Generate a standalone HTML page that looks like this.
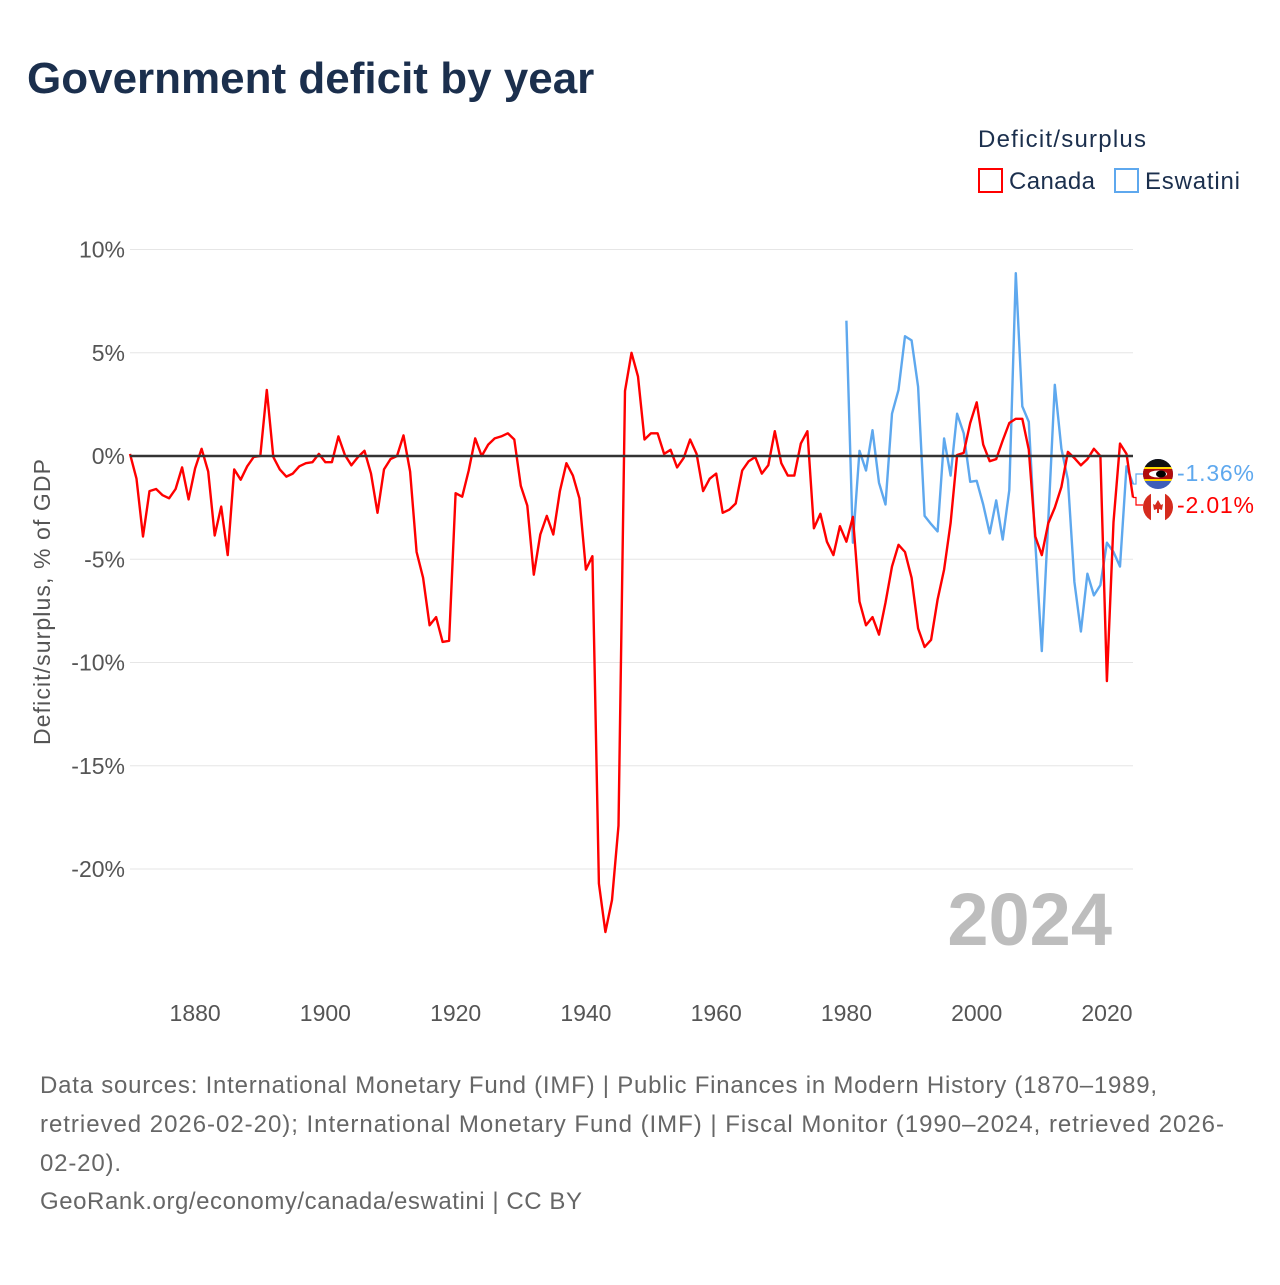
<!DOCTYPE html>
<html><head><meta charset="utf-8"><style>
body{margin:0;background:#fff;width:1280px;height:1280px;overflow:hidden;font-family:"Liberation Sans",sans-serif}
</style></head><body>
<svg width="1280" height="1280" viewBox="0 0 1280 1280" xmlns="http://www.w3.org/2000/svg">
<text x="27" y="93" font-size="44" font-weight="bold" fill="#1b2f4d">Government deficit by year</text>
<text x="978" y="147" font-size="24" fill="#1b2f4d" textLength="168">Deficit/surplus</text>
<g><rect x="979" y="169" width="23" height="23" fill="none" stroke="#ff0000" stroke-width="2"/><text x="1009" y="189" font-size="24" fill="#1b2f4d" textLength="86">Canada</text></g>
<g><rect x="1115" y="169" width="23" height="23" fill="none" stroke="#5ea8ee" stroke-width="2"/><text x="1145" y="189" font-size="24" fill="#1b2f4d" textLength="95">Eswatini</text></g>
<g id="grid"></g>
<g id="yt"></g>
<g id="xt"></g>
<text transform="translate(50,602) rotate(-90)" text-anchor="middle" font-size="23" fill="#555" textLength="286">Deficit/surplus, % of GDP</text>
<text x="1112" y="945" text-anchor="end" font-size="74" font-weight="bold" fill="#bdbdbd">2024</text>
<g id="series"></g>
<g>
<clipPath id="c1"><circle cx="1158" cy="474" r="15"/></clipPath>
<g clip-path="url(#c1)"><rect x="1143" y="459" width="30" height="30" fill="#3e5eb9"/><rect x="1143" y="459" width="30" height="8" fill="#111"/><rect x="1143" y="467" width="30" height="2" fill="#ffd900"/><rect x="1143" y="469" width="30" height="10" fill="#b10c0c"/><rect x="1143" y="479" width="30" height="2" fill="#ffd900"/><ellipse cx="1158" cy="474" rx="9" ry="3.5" fill="#fff"/><ellipse cx="1161" cy="474" rx="5" ry="3.5" fill="#000"/></g></g>
<g>
<clipPath id="c2"><circle cx="1158" cy="507" r="15"/></clipPath>
<g clip-path="url(#c2)"><rect x="1143" y="492" width="30" height="30" fill="#fff"/><rect x="1143" y="492" width="8" height="30" fill="#d52b1e"/><rect x="1165" y="492" width="8" height="30" fill="#d52b1e"/><path d="M1158 500 L1161 505 L1163 504 L1162 510 L1159 509 L1159 513 L1157 513 L1157 509 L1154 510 L1153 504 L1155 505Z" fill="#d52b1e"/></g></g>
<text x="1177" y="481" font-size="23" fill="#5ea8ee" textLength="77">-1.36%</text>
<text x="1177" y="513" font-size="23" fill="#ff0000" textLength="77">-2.01%</text>
<g font-size="24" fill="#666">
<text x="40" y="1093" textLength="1117">Data sources: International Monetary Fund (IMF) | Public Finances in Modern History (1870–1989,</text>
<text x="40" y="1132" textLength="1184">retrieved 2026-02-20); International Monetary Fund (IMF) | Fiscal Monitor (1990–2024, retrieved 2026-</text>
<text x="40" y="1171" textLength="81">02-20).</text>
<text x="40" y="1209" textLength="542">GeoRank.org/economy/canada/eswatini | CC BY</text>
</g>
</svg>
<script>
const yTicks=[10,5,0,-5,-10,-15,-20];
const xTicks=[1880,1900,1920,1940,1960,1980,2000,2020];
const canadaStart=1870;
const canada=[0.1,-1.1,-3.9,-1.7,-1.6,-1.9,-2.05,-1.6,-0.55,-2.1,-0.6,0.35,-0.75,-3.85,-2.45,-4.8,-0.65,-1.15,-0.5,-0.05,0,3.2,-0.05,-0.65,-1.0,-0.85,-0.5,-0.35,-0.3,0.1,-0.3,-0.3,0.95,0.05,-0.45,-0.05,0.25,-0.85,-2.75,-0.65,-0.15,0,1.0,-0.75,-4.65,-5.9,-8.2,-7.8,-9.0,-8.95,-1.8,-1.97,-0.7,0.85,0,0.55,0.85,0.95,1.1,0.8,-1.45,-2.4,-5.75,-3.8,-2.9,-3.8,-1.7,-0.35,-0.95,-2.05,-5.5,-4.85,-20.7,-23.05,-21.5,-17.9,3.15,5.0,3.85,0.8,1.1,1.1,0.1,0.3,-0.55,-0.1,0.8,0.1,-1.7,-1.1,-0.85,-2.75,-2.6,-2.3,-0.7,-0.25,-0.05,-0.85,-0.45,1.2,-0.35,-0.95,-0.95,0.6,1.2,-3.5,-2.8,-4.15,-4.8,-3.4,-4.15,-2.95,-7.05,-8.2,-7.8,-8.65,-7.1,-5.35,-4.3,-4.65,-5.9,-8.35,-9.25,-8.9,-6.95,-5.5,-3.25,0.05,0.15,1.6,2.6,0.55,-0.25,-0.15,0.75,1.6,1.8,1.8,0.3,-3.9,-4.8,-3.25,-2.5,-1.5,0.2,-0.1,-0.45,-0.15,0.35,0,-10.9,-3.2,0.6,0.1,-2.01];
const eswStart=1980;
const eswatini=[6.55,-4.2,0.25,-0.7,1.25,-1.3,-2.35,2.05,3.2,5.8,5.6,3.35,-2.9,-3.3,-3.65,0.85,-0.95,2.05,1.1,-1.25,-1.2,-2.35,-3.75,-2.15,-4.05,-1.65,8.85,2.4,1.65,-4.2,-9.45,-3.1,3.45,0.35,-1.15,-6.1,-8.5,-5.7,-6.75,-6.25,-4.2,-4.65,-5.35,-0.5,-1.36];
const NS='http://www.w3.org/2000/svg';
const X0=130,X1=1133,yr0=1870,yr1=2024;
function xs(y){return X0+(y-yr0)*(X1-X0)/(yr1-yr0);}
function ys(v){return 456-v*20.65;}
function mk(tag,attrs,parent){const e=document.createElementNS(NS,tag);for(const k in attrs)e.setAttribute(k,attrs[k]);parent.appendChild(e);return e;}
const grid=document.getElementById('grid'),yt=document.getElementById('yt'),xt=document.getElementById('xt'),ser=document.getElementById('series');
yTicks.forEach(v=>{
 if(v!==0){const l=mk('line',{x1:X0,x2:X1,y1:ys(v),y2:ys(v),stroke:'#e6e6e6','stroke-width':1},grid);
 
 }
 const t=mk('text',{x:125,y:ys(v)+8,'text-anchor':'end','font-size':23,fill:'#555'},yt);
 t.textContent=v+'%';
 
 
});
xTicks.forEach(v=>{
 const t=mk('text',{x:xs(v),y:1021,'text-anchor':'middle','font-size':23,fill:'#555'},xt);
 t.textContent=v;
 
 
});
function line(data,start,color,name){
 const pts=data.map((v,i)=>xs(start+i).toFixed(1)+','+ys(v).toFixed(1)).join(' ');
 const p=mk('polyline',{points:pts,fill:'none',stroke:color,'stroke-width':2.4,'stroke-linejoin':'round'},ser);
 
 
}
line(eswatini,eswStart,'#5ea8ee','eswatini-line');
line(canada,canadaStart,'#ff0000','canada-line');
const z=mk('line',{x1:X0,x2:X1,y1:ys(0),y2:ys(0),stroke:'#333','stroke-width':2.4},ser);


const ce=ys(canada[canada.length-1]),ee=ys(eswatini[eswatini.length-1]);
const c1=mk('polyline',{points:`${X1},${ce} ${X1+3},${ce} ${X1+3},505 1143,505`,fill:'none',stroke:'#ff0000','stroke-width':1.2},ser);


const c2=mk('polyline',{points:`${X1},${ee} ${X1+3},${ee} ${X1+3},474 1143,474`,fill:'none',stroke:'#5ea8ee','stroke-width':1.2},ser);


</script>
</body></html>
